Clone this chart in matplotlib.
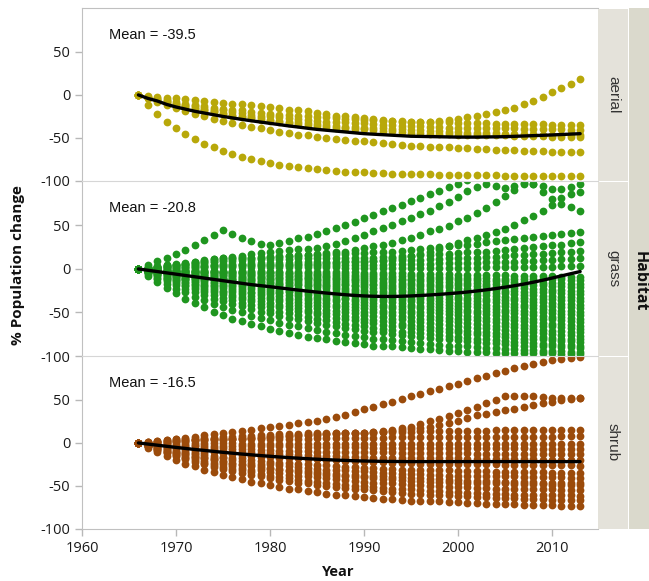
import matplotlib
matplotlib.use("Agg")
import matplotlib.pyplot as plt
from matplotlib.patches import Rectangle

# ---------------- data ----------------
years = list(range(1966, 2014))
habitats = ["aerial", "grass", "shrub"]
mean_labels = ["Mean = -39.5", "Mean = -20.8", "Mean = -16.5"]
y_ticks = [50, 0, -50, -100]
x_ticks = [1960, 1970, 1980, 1990, 2000, 2010]

# % population change per species, one value per year (1966..2013)
aerial_trends = [
    [0,-12,-22,-31,-38,-45, -51,-57,-61,-65,-69, -72,-75,-77,-79,-81, -83,-84,-85,-86,-87, -88,-89,-89,-90,-91, -91,-92,-92,-92,-92, -92,-93,-93,-93,-93, -93,-93,-93,-94,-94, -94,-94,-94,-94,-94, -94,-94],
    [0,-4,-8,-12,-15,-19, -22,-25,-28,-30,-33, -35,-37,-39,-41,-43, -44,-46,-47,-49,-50, -51,-52,-53,-54,-55, -56,-57,-58,-59,-59, -60,-61,-61,-62,-62, -63,-63,-64,-64,-64, -65,-65,-65,-66,-66, -66,-66],
    [0,-1,-2,-3,-4,-5, -6,-7,-8,-9,-10, -11,-12,-13,-14,-15, -17,-18,-19,-21,-22, -24,-25,-26,-27,-28, -29,-30,-30,-31,-31, -31,-30,-29,-28,-26, -24,-22,-20,-17,-15, -11,-7,-2,3,8, 13,19],
    [0,-2,-4,-6,-8,-10, -12,-13,-15,-16,-17, -18,-20,-21,-22,-23, -23,-24,-25,-26,-26, -27,-28,-28,-29,-29, -30,-30,-31,-31,-31, -32,-32,-32,-33,-33, -33,-33,-34,-34,-34, -34,-34,-34,-35,-35, -35,-35],
    [0,-3,-5,-7,-10,-12, -13,-15,-17,-18,-20, -21,-23,-24,-25,-26, -27,-28,-29,-30,-31, -31,-32,-33,-33,-34, -35,-35,-36,-36,-36, -37,-37,-38,-38,-38, -38,-39,-39,-39,-39, -40,-40,-40,-40,-40, -41,-41],
    [0,-3,-6,-8,-11,-13, -15,-17,-19,-21,-23, -24,-26,-27,-29,-30, -31,-32,-33,-34,-35, -36,-37,-37,-38,-39, -39,-40,-40,-41,-41, -42,-42,-43,-43,-44, -44,-44,-44,-45,-45, -45,-45,-46,-46,-46, -46,-46],
    [0,-3,-6,-9,-12,-14, -16,-18,-20,-22,-24, -26,-27,-29,-30,-32, -33,-34,-35,-36,-37, -38,-39,-40,-40,-41, -42,-42,-43,-44,-44, -45,-45,-45,-46,-46, -47,-47,-47,-47,-48, -48,-48,-48,-49,-49, -49,-49],
]

grass_trends = [
    [0,2,3,5,6, 7,8,10,11,12, 12,13,13,14,14, 14,15,15,16,16, 16,17,17,18,18, 19,20,20,21,22, 23,24,25,26,27, 28,29,31,32,33, 34,35,37,38,39, 40,41,42],
    [0,1,2,3,4, 5,6,7,8,9, 9,10,10,11,11, 11,11,12,12,12, 12,12,13,13,13, 13,14,14,15,15, 16,16,17,17,18, 19,19,20,21,22, 23,24,25,26,27, 28,30,31],
    [0,1,2,2,3, 4,4,5,5,6, 6,6,7,7,7, 7,7,8,8,8, 8,8,9,9,9, 9,9,10,10,10, 10,11,11,12,12, 13,13,14,14,15, 16,16,17,17,18, 19,20,21],
    [0,1,1,2,2, 2,3,3,4,4, 4,4,5,5,5, 5,5,5,5,5, 5,5,5,5,5, 5,5,6,6,6, 6,6,7,7,7, 7,7,8,8,8, 8,9,9,10,10, 11,11,12],
    [0,0,1,1,1, 1,1,2,2,2, 2,2,2,2,2, 2,2,2,2,2, 2,2,1,1,1, 1,1,1,1,1, 1,1,1,1,1, 1,1,2,2,2, 2,2,2,2,2, 3,3,3],
    [0,0,0,-1,-1,-1, -1,-1,-2,-2,-2, -2,-2,-2,-3,-3, -3,-3,-3,-4,-4, -4,-4,-4,-5,-5, -5,-5,-5,-6,-6, -6,-6,-6,-7,-7, -7,-7,-7,-7,-8, -8,-8,-8,-8,-9, -9,-9],
    [0,0,-1,-1,-1,-1, -2,-2,-2,-3,-3, -3,-4,-4,-4,-4, -5,-5,-5,-6,-6, -6,-6,-7,-7,-7, -7,-8,-8,-8,-8, -9,-9,-9,-10,-10, -10,-10,-11,-11,-11, -11,-12,-12,-12,-12, -13,-13],
    [0,0,-1,-1,-2,-2, -2,-3,-3,-4,-4, -4,-5,-5,-5,-6, -6,-7,-7,-7,-8, -8,-8,-9,-9,-9, -10,-10,-11,-11,-11, -12,-12,-12,-13,-13, -13,-14,-14,-14,-15, -15,-15,-16,-16,-16, -17,-17],
    [0,0,-1,-2,-2,-2, -3,-3,-4,-4,-5, -5,-6,-6,-7,-7, -8,-8,-9,-9,-9, -10,-10,-11,-11,-12, -12,-13,-13,-13,-14, -14,-15,-15,-16,-16, -16,-17,-17,-18,-18, -19,-19,-19,-20,-20, -21,-21],
    [0,-1,-1,-2,-2,-3, -4,-4,-5,-5,-6, -6,-7,-8,-8,-9, -9,-10,-10,-11,-12, -12,-13,-13,-14,-14, -15,-15,-16,-16,-17, -17,-18,-18,-19,-19, -20,-20,-21,-21,-22, -22,-23,-23,-24,-24, -25,-25],
    [0,-1,-1,-2,-3,-4, -4,-5,-6,-6,-7, -8,-8,-9,-10,-10, -11,-12,-12,-13,-14, -14,-15,-15,-16,-17, -17,-18,-18,-19,-20, -20,-21,-21,-22,-23, -23,-24,-24,-25,-25, -26,-26,-27,-27,-28, -29,-29],
    [0,-1,-2,-3,-3,-4, -5,-6,-7,-7,-8, -9,-10,-10,-11,-12, -13,-13,-14,-15,-16, -16,-17,-18,-18,-19, -20,-21,-21,-22,-23, -23,-24,-25,-25,-26, -26,-27,-28,-28,-29, -30,-30,-31,-31,-32, -32,-33],
    [0,-1,-2,-3,-4,-5, -6,-7,-8,-8,-9, -10,-11,-12,-13,-14, -15,-15,-16,-17,-18, -19,-19,-20,-21,-22, -22,-23,-24,-25,-26, -26,-27,-28,-28,-29, -30,-30,-31,-32,-33, -33,-34,-34,-35,-36, -36,-37],
    [0,-1,-2,-3,-4,-6, -7,-8,-9,-10,-11, -12,-13,-14,-15,-16, -16,-17,-18,-19,-20, -21,-22,-23,-24,-25, -25,-26,-27,-28,-29, -29,-30,-31,-32,-33, -33,-34,-35,-36,-36, -37,-38,-38,-39,-40, -40,-41],
    [0,-1,-2,-4,-5,-6, -7,-8,-10,-11,-12, -13,-14,-15,-16,-17, -18,-19,-20,-21,-22, -23,-24,-25,-26,-27, -28,-29,-30,-31,-32, -33,-33,-34,-35,-36, -37,-37,-38,-39,-40, -41,-41,-42,-43,-44, -44,-45],
    [0,-1,-3,-4,-6,-7, -8,-10,-11,-12,-13, -14,-16,-17,-18,-19, -20,-22,-23,-24,-25, -26,-27,-28,-29,-30, -31,-32,-33,-34,-35, -36,-37,-38,-39,-39, -40,-41,-42,-43,-44, -44,-45,-46,-47,-48, -48,-49],
    [0,-2,-3,-5,-6,-8, -9,-10,-12,-13,-15, -16,-17,-19,-20,-21, -23,-24,-25,-26,-28, -29,-30,-31,-32,-33, -34,-35,-36,-37,-38, -39,-40,-41,-42,-43, -44,-45,-46,-47,-47, -48,-49,-50,-51,-52, -52,-53],
    [0,-2,-3,-5,-7,-9, -10,-12,-13,-15,-16, -18,-19,-21,-22,-24, -25,-26,-28,-29,-30, -31,-33,-34,-35,-36, -37,-38,-39,-41,-42, -43,-44,-45,-46,-47, -48,-48,-49,-50,-51, -52,-53,-54,-55,-55, -56,-57],
    [0,-2,-4,-6,-8,-10, -11,-13,-15,-16,-18, -20,-21,-23,-24,-26, -27,-29,-30,-32,-33, -34,-35,-37,-38,-39, -41,-42,-43,-44,-45, -46,-47,-48,-49,-50, -51,-52,-53,-54,-55, -56,-57,-58,-58,-59, -60,-61],
    [0,-2,-4,-6,-8,-11, -12,-14,-16,-18,-20, -22,-23,-25,-27,-28, -30,-31,-33,-34,-36, -37,-39,-40,-41,-43, -44,-45,-46,-48,-49, -50,-51,-52,-53,-54, -55,-56,-57,-58,-59, -60,-61,-62,-63,-63, -64,-65],
    [0,-2,-5,-7,-9,-12, -14,-16,-18,-20,-22, -24,-26,-28,-29,-31, -33,-35,-36,-38,-39, -41,-42,-44,-45,-46, -48,-49,-50,-51,-53, -54,-55,-56,-57,-58, -59,-60,-61,-62,-63, -64,-65,-66,-66,-67, -68,-69],
    [0,-3,-5,-8,-10,-13, -15,-18,-20,-22,-24, -26,-28,-30,-32,-34, -36,-38,-39,-41,-43, -44,-46,-47,-49,-50, -51,-53,-54,-55,-57, -58,-59,-60,-61,-62, -63,-64,-65,-66,-67, -68,-69,-70,-71,-71, -72,-73],
    [0,-3,-6,-9,-12,-15, -17,-20,-22,-25,-27, -29,-31,-33,-35,-37, -39,-41,-43,-45,-47, -48,-50,-51,-53,-54, -55,-57,-58,-60,-61, -62,-63,-64,-65,-67, -68,-68,-69,-70,-71, -72,-73,-74,-75,-76, -76,-77],
    [0,-3,-6,-10,-13,-16, -19,-22,-24,-27,-30, -32,-34,-37,-39,-41, -43,-45,-47,-49,-51, -52,-54,-55,-57,-59, -60,-61,-63,-64,-65, -67,-68,-69,-70,-71, -72,-73,-74,-75,-76, -76,-77,-78,-79,-80, -80,-81],
    [0,-4,-7,-11,-14,-18, -21,-24,-27,-29,-32, -35,-37,-40,-42,-44, -46,-48,-50,-52,-54, -56,-58,-59,-61,-62, -64,-65,-66,-68,-69, -70,-71,-72,-73,-75, -75,-76,-77,-78,-79, -80,-80,-81,-82,-83, -83,-84],
    [0,-4,-8,-12,-16,-20, -23,-27,-30,-33,-36, -39,-41,-44,-47,-49, -51,-53,-55,-57,-59, -61,-63,-64,-66,-68, -69,-70,-72,-73,-74, -75,-76,-77,-78,-79, -80,-81,-82,-83,-84, -84,-85,-86,-86,-87, -87,-88],
    [0,-5,-10,-14,-19,-23, -26,-30,-34,-37,-40, -43,-46,-49,-51,-54, -56,-58,-60,-62,-64, -66,-68,-69,-71,-72, -73,-75,-76,-77,-78, -79,-80,-81,-82,-83, -84,-85,-85,-86,-87, -88,-88,-89,-89,-90, -90,-91],
    [0,-6,-12,-17,-23,-27, -32,-36,-40,-44,-47, -50,-54,-56,-59,-62, -64,-66,-68,-70,-72, -74,-76,-77,-78,-80, -81,-82,-83,-84,-85, -86,-87,-88,-89,-89, -90,-91,-91,-92,-92, -93,-93,-94,-94,-94, -95,-95],
    [0,-8,-15,-22,-28,-34, -39,-44,-49,-53,-57, -60,-63,-66,-69,-71, -74,-76,-78,-79,-81, -83,-84,-85,-86,-88, -89,-89,-90,-91,-92, -92,-93,-94,-94,-95, -95,-95,-96,-96,-96, -97,-97,-97,-97,-98, -98,-98],
    [0,5,9,12,17, 22,28,33,39,45, 40,36,32,29,27, 30,32,35,37,40, 43,47,50,54,58, 62,66,70,74,78, 82,86,90,94,98, 102,106],
    [0,1,2,4,5, 6,8,9,11,12, 14,15,17,18,20, 21,22,23,23,24, 26,29,32,35,39, 43,47,51,55,59, 63,67,72,77,83, 89,94,97,95,93, 95,99,97,95,92, 92,94,97],
    [0,1,2,3,4, 6,7,8,9,10, 11,12,12,13,14, 15,15,16,16,17, 18,19,20,22,24, 26,28,30,33,36, 39,43,46,49,55, 59,64,70,77,84, 91,98,97,88,80, 75,71,67],
    [0,0,1,1,1, 2,2,2,3,3, 3,4,4,4,5, 5,5,6,6,6, 7,7,8,8,8, 9,10,12,13,15, 17,20,23,26,30, 33,36,39,42,46, 51,56,61,66,74, 82,86,88],
]

shrub_trends = [
    [0,1,2,3,5,6, 7,9,10,12,13, 14,15,17,18,20, 21,23,24,26,28, 30,33,36,39,42, 45,48,51,54,57, 60,63,66,69,72, 75,78,81,84,87, 89,92,94,96,98, 99,100],
    [0,1,1,2,2,3, 3,4,4,5,5, 6,6,7,7,8, 8,9,9,10,10, 11,11,12,12,13, 14,15,17,19,22, 25,28,31,35,38, 42,46,50,54,55, 55,54,53,52,52, 52,52],
    [0,0,1,1,2,2, 3,3,4,4,5, 5,6,6,7,7, 8,8,9,9,10, 10,11,11,12,12, 13,14,15,16,17, 19,21,23,26,29, 32,34,36,38,40, 42,44,46,48,50, 51,52],
    [0,1,2,3,4,4, 5,6,6,7,7, 8,8,9,9,10, 10,10,11,11,11, 12,12,12,12,13, 13,13,13,13,14, 14,14,14,14,14, 14,14,15,15,15, 15,15,15,15,15, 15,15],
    [0,0,1,1,2,2, 3,3,3,3,4, 4,4,4,5,5, 5,5,5,6,6, 6,6,6,6,6, 6,7,7,7,7, 7,7,7,7,7, 7,7,7,7,7, 7,7,7,7,8, 8,8],
    [0,0,0,0,0,0, 0,0,0,0,0, -1,-1,-1,-1,-1, -1,-1,-1,-1,-1, -1,-1,-1,-1,-1, -1,-1,-1,-1,-1, -1,-1,-1,-1,-1, -1,-1,-1,-1,-1, -1,-1,-1,-1,-1, -1,-1],
    [0,0,-1,-1,-2,-2, -2,-2,-3,-3,-3, -3,-4,-4,-4,-4, -4,-5,-5,-5,-5, -5,-5,-5,-5,-6, -6,-6,-6,-6,-6, -6,-6,-6,-6,-6, -6,-6,-6,-6,-6, -6,-7,-7,-7,-7, -7,-7],
    [0,-1,-2,-2,-3,-4, -4,-5,-6,-6,-7, -7,-7,-8,-8,-9, -9,-9,-9,-10,-10, -10,-10,-11,-11,-11, -11,-11,-12,-12,-12, -12,-12,-12,-12,-12, -13,-13,-13,-13,-13, -13,-13,-13,-13,-13, -13,-13],
    [0,-1,-2,-4,-5,-6, -7,-7,-8,-9,-10, -10,-11,-12,-12,-13, -13,-14,-14,-15,-15, -15,-16,-16,-16,-17, -17,-17,-17,-18,-18, -18,-18,-18,-18,-19, -19,-19,-19,-19,-19, -19,-19,-20,-20,-20, -20,-20],
    [0,-2,-3,-5,-6,-8, -9,-10,-11,-12,-13, -14,-15,-16,-16,-17, -18,-18,-19,-19,-20, -20,-21,-21,-22,-22, -22,-23,-23,-23,-24, -24,-24,-24,-25,-25, -25,-25,-25,-26,-26, -26,-26,-26,-26,-26, -26,-27],
    [0,-2,-4,-6,-8,-10, -12,-13,-15,-16,-17, -18,-20,-21,-22,-23, -23,-24,-25,-26,-26, -27,-28,-28,-29,-29, -30,-30,-31,-31,-31, -32,-32,-32,-33,-33, -33,-33,-34,-34,-34, -34,-34,-34,-35,-35, -35,-35],
    [0,-3,-5,-7,-10,-12, -13,-15,-17,-18,-20, -21,-23,-24,-25,-26, -27,-28,-29,-30,-31, -31,-32,-33,-33,-34, -35,-35,-36,-36,-36, -37,-37,-38,-38,-38, -38,-39,-39,-39,-39, -40,-40,-40,-40,-40, -41,-41],
    [0,-3,-6,-8,-11,-13, -15,-17,-19,-21,-23, -24,-26,-27,-29,-30, -31,-32,-33,-34,-35, -36,-37,-37,-38,-39, -39,-40,-40,-41,-41, -42,-42,-43,-43,-44, -44,-44,-44,-45,-45, -45,-45,-46,-46,-46, -46,-46],
    [0,-3,-6,-9,-12,-14, -16,-18,-20,-22,-24, -26,-27,-29,-30,-32, -33,-34,-35,-36,-37, -38,-39,-40,-40,-41, -42,-42,-43,-44,-44, -45,-45,-45,-46,-46, -47,-47,-47,-47,-48, -48,-48,-48,-49,-49, -49,-49],
    [0,-4,-7,-10,-13,-16, -18,-21,-23,-25,-27, -29,-31,-32,-34,-35, -37,-38,-39,-40,-41, -42,-43,-44,-45,-46, -47,-47,-48,-49,-49, -50,-50,-51,-51,-51, -52,-52,-53,-53,-53, -54,-54,-54,-54,-55, -55,-55],
    [0,-4,-8,-11,-14,-17, -20,-23,-26,-28,-30, -32,-34,-36,-38,-40, -41,-43,-44,-45,-46, -48,-49,-50,-50,-51, -52,-53,-54,-54,-55, -56,-56,-57,-57,-58, -58,-59,-59,-59,-60, -60,-60,-61,-61,-61, -61,-62],
    [0,-4,-8,-12,-15,-19, -22,-25,-28,-30,-33, -35,-37,-39,-41,-43, -44,-46,-47,-49,-50, -51,-52,-53,-54,-55, -56,-57,-58,-59,-59, -60,-61,-61,-62,-62, -63,-63,-64,-64,-64, -65,-65,-65,-66,-66, -66,-66],
    [0,-6,-11,-15,-20,-24, -27,-31,-34,-37,-40, -42,-45,-47,-49,-51, -53,-54,-56,-57,-59, -60,-61,-62,-63,-64, -65,-65,-66,-67,-67, -68,-68,-69,-69,-70, -70,-71,-71,-71,-71, -72,-72,-72,-72,-73, -73,-73],
]

# habitat mean curves (black lines), one value per year
aerial_mean = [0,-4,-7,-11,-14,-16.5, -19,-21,-23,-25,-26.7, -28.4,-30,-31.5,-33,-34.5, -36,-37.3,-38.7,-40,-41,
               -42,-43,-44,-45,-45.6, -46.2,-46.8,-47.4,-48,-48.2, -48.4,-48.6,-48.8,-49,-49,
               -49,-48.8,-48.7,-48.5,-48.1, -47.7,-47.3,-46.9,-46.5,-46, -45.5,-45]
grass_mean = [0,-1.5,-3,-4.5,-6,-7.5, -9,-10.5,-12,-13.5,-15, -16.5,-18,-19.2,-20.4,-21.7, -23,-24.3,-25.5,-26.6,-27.7,
              -28.7,-29.6,-30.4,-31,-31.4, -31.6,-31.6,-31.4,-31,-30.5, -29.9,-29.2,-28.4,-27.5,-26.5,
              -25.3,-24,-22.6,-21,-19.3, -17.4,-15.3,-13,-10.5,-8, -5.5,-3]
shrub_mean = [0,-1.3,-2.6,-3.9,-5.2,-6.4, -7.6,-8.7,-9.8,-10.9,-11.9, -12.9,-13.8,-14.7,-15.5,-16.3, -17,-17.7,-18.3,-18.9,-19.4,
              -19.9,-20.3,-20.7,-21,-21.2, -21.4,-21.5,-21.6,-21.7,-21.7, -21.7,-21.7,-21.7,-21.7,-21.7,
              -21.7,-21.7,-21.7,-21.7,-21.7, -21.7,-21.7,-21.7,-21.7,-21.7, -21.7,-21.7]

# ---------------- styling / layout ----------------
colors = ["#b8a80a", "#1f961f", "#9b4b0b"]
all_trends = [aerial_trends, grass_trends, shrub_trends]
all_means = [aerial_mean, grass_mean, shrub_mean]

W, H = 649, 581
fig = plt.figure(figsize=(W / 100, H / 100), dpi=100)
plot_left, plot_right = 82, 598
panel_edges = [(8, 181), (181, 356), (356, 529)]
tick_font = "Open Sans"

for i, name in enumerate(habitats):
    top, bot = panel_edges[i]
    ax = fig.add_axes([plot_left / W, 1 - bot / H, (plot_right - plot_left) / W, (bot - top) / H])
    for tr in all_trends[i]:
        ax.plot(years[:len(tr)], tr, linestyle="none", marker="o", markersize=5.6,
                markeredgewidth=0, color=colors[i], zorder=2)
    m = all_means[i]
    ax.plot(years[:len(m)], m, color="black", linewidth=2.4, zorder=3, solid_capstyle="round")
    ax.set_xlim(1960, 2014.9)
    ax.set_ylim(-100, 101)
    ax.set_yticks(y_ticks)
    ax.set_yticklabels([str(v) for v in y_ticks], fontfamily=tick_font)
    ax.set_xticks(x_ticks)
    ax.spines["right"].set_visible(False)
    ax.spines["left"].set_color("#c0c0c0")
    ax.spines["top"].set_color("#d6d6d6" if i > 0 else "#c0c0c0")
    ax.spines["bottom"].set_color("#c0c0c0")
    ax.tick_params(axis="both", colors="#b8b8b8", labelcolor="#1a1a1a", length=5, width=1, labelsize=10.5)
    if i < 2:
        ax.spines["bottom"].set_visible(False)
        ax.tick_params(axis="x", bottom=False, labelbottom=False)
    else:
        ax.set_xticklabels([str(v) for v in x_ticks], fontfamily=tick_font)
    ax.text(0.052, 0.845, mean_labels[i], transform=ax.transAxes, fontsize=10.5,
            family="Liberation Sans", va="center", ha="left", color="#111111")
    # facet strip
    fig.add_artist(Rectangle((plot_right / W, 1 - (bot - 0.5) / H), 30 / W, (bot - top - 1) / H,
                             transform=fig.transFigure, facecolor="#e4e2da", edgecolor="none"))
    fig.text(613 / W, 1 - (top + bot) / 2 / H, name, rotation=270, ha="center", va="center",
             fontsize=11, color="#333333", family="Liberation Sans")

fig.add_artist(Rectangle((629 / W, 1 - 529 / H), 20 / W, 521 / H, transform=fig.transFigure,
                         facecolor="#dad9cc", edgecolor="none"))
fig.text(640 / W, 1 - 281 / H, "Habitat", rotation=270, ha="center", va="center",
         fontsize=11.5, fontweight="bold", color="#111111", family=tick_font)
fig.text(18 / W, 1 - 265 / H, "% Population change", rotation=90, ha="center", va="center",
         fontsize=11, fontweight="bold", color="#111111", family=tick_font)
fig.text(338 / W, 1 - 572 / H, "Year", ha="center", va="center",
         fontsize=10.5, fontweight="bold", color="#111111", family=tick_font)

fig.savefig("out.png", dpi=100)
